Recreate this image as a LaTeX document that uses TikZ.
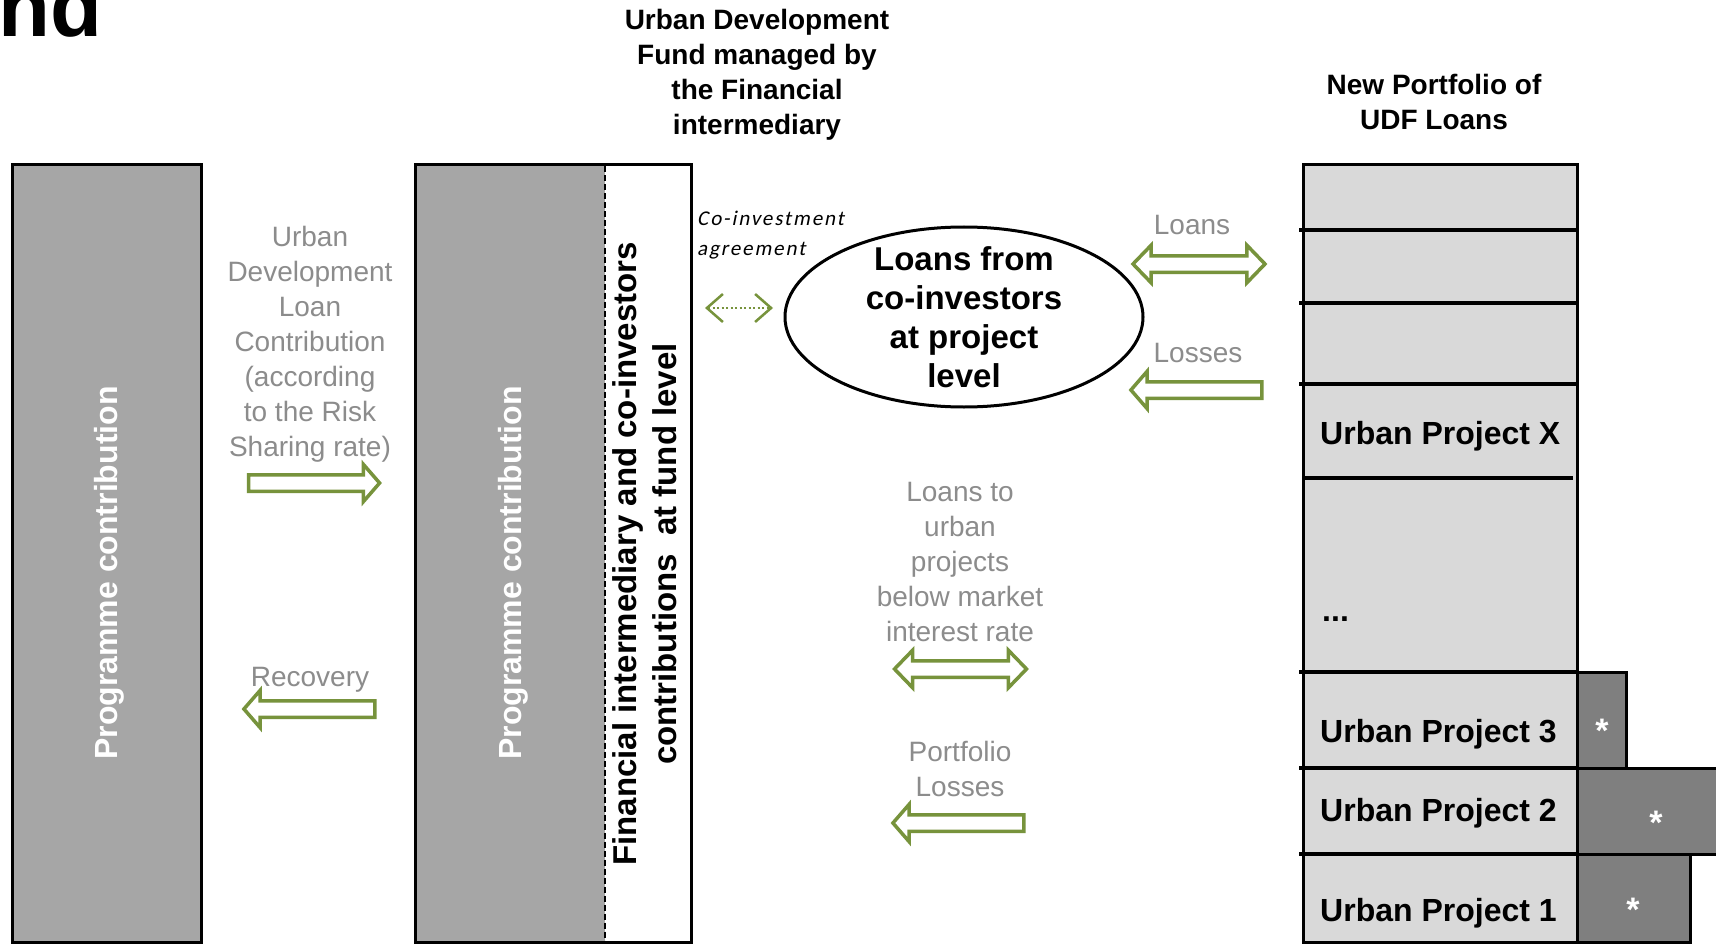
\documentclass[tikz,border=0pt]{standalone}
\usepackage{fontspec}
\setmainfont{Liberation Sans}
\newfontfamily\agreefont[LetterSpace=9,FakeSlant=0.2]{Carlito}
\usetikzlibrary{shapes.geometric,shapes.arrows,arrows.meta}

\definecolor{contribgray}{HTML}{A6A6A6}
\definecolor{loangray}{HTML}{D9D9D9}
\definecolor{stargray}{HTML}{7F7F7F}
\definecolor{flowgreen}{HTML}{77933C}
\definecolor{labelgray}{HTML}{8C8C8C}

\tikzset{
  headlabel/.style={font=\bfseries\fontsize{28}{35}\selectfont, align=center, inner sep=0pt, anchor=north},
  flowlabel/.style={font=\fontsize{28}{35}\selectfont, text=labelgray, align=center, inner sep=0pt, anchor=north},
  vlabel/.style={font=\bfseries\fontsize{32}{40}\selectfont, rotate=90, inner sep=0pt, align=center},
  projlabel/.style={font=\bfseries\fontsize{32}{38}\selectfont, inner sep=0pt, anchor=base west},
  starlabel/.style={font=\bfseries\fontsize{34}{34}\selectfont, text=white, inner sep=0pt},
  flowright/.style={single arrow, draw=flowgreen, line width=3.5pt, fill=white, minimum height=131pt, inner sep=6.5pt, single arrow head extend=10.5pt, single arrow tip angle=98},
  flowleft/.style={flowright, shape border rotate=180},
  flowboth/.style={double arrow, draw=flowgreen, line width=3.5pt, fill=white, minimum height=132pt, inner sep=6.5pt, double arrow head extend=10.5pt, double arrow tip angle=92},
  rowline/.style={line width=4.5pt},
}

\begin{document}
\begin{tikzpicture}[x=1pt,y=-1pt]
    \useasboundingbox (0,0) rectangle (1716,944);
    \clip (0,0) rectangle (1716,944);
    \fill[white] (0,0) rectangle (1716,944);

    \node[font=\bfseries\fontsize{85}{85}\selectfont, anchor=base east, inner sep=0pt] (titlecut) at (103,37) {nd};

    \draw[line width=3pt, fill=contribgray] (12,165) rectangle (201,942);
    \node[vlabel, text=white, anchor=base] (progleft) at (117,573) {Programme contribution};

    \fill[contribgray] (415,165) rectangle (605,942);
    \draw[line width=3pt] (415,165) rectangle (691,942);
    \draw[line width=2pt, dash pattern=on 6pt off 3pt] (605,166.5) -- (605,940.5);
    \node[vlabel, text=white, anchor=base] (progmid) at (521,573) {Programme contribution};
    \node[vlabel, font=\bfseries\fontsize{33}{40}\selectfont] (fundlevel) at (645,554) {Financial intermediary and co-investors\\contributions \ at fund level};

    \node[headlabel] (udfhead) at (757,9) {Urban Development\\Fund managed by\\the Financial\\intermediary};
    \node[headlabel] (portfoliohead) at (1434,74) {New Portfolio of\\UDF Loans};

    \node[flowlabel] (contriblabel) at (310,226) {Urban\\Development\\Loan\\Contribution\\(according\\to the Risk\\Sharing rate)};
    \node[flowright] (contribarrow) at (310.5,483) {};
    \node[flowlabel] (recovlabel) at (310,667) {Recovery};
    \node[flowleft] (recovarrow) at (313,709) {};

    \node[font=\agreefont\fontsize{21}{30}\selectfont, align=left, anchor=north west, inner sep=0pt] (agreelabel) at (697,211) {Co-investment\\agreement};
    \coordinate (agreeL) at (705,308);
    \coordinate (agreeR) at (773,308);
    \draw[flowgreen, line width=2.5pt, dash pattern=on 2pt off 2.5pt, {Straight Barb[length=16pt,width=28pt]}-{Straight Barb[length=16pt,width=28pt]}] (agreeL) -- (agreeR);

    \node[ellipse, draw, line width=3pt, minimum width=358pt, minimum height=180pt, inner sep=0pt] (coinvest) at (964,317) {};
    \node[font=\bfseries\fontsize{33}{39}\selectfont, align=center, inner sep=0pt] (coinvlabel) at (coinvest.center) {Loans from\\co-investors\\at project\\level};

    \node[flowlabel] (loanslabel) at (1192,215) {Loans};
    \node[flowboth] (loansarrow) at (1199,264) {};
    \node[flowlabel] (losseslabel) at (1198,343) {Losses};
    \node[flowleft] (lossesarrow) at (1200,390) {};

    \node[flowlabel] (projlabel) at (960,482) {Loans to\\urban\\projects\\below market\\interest rate};
    \node[flowboth] (projarrow) at (960.5,669) {};
    \node[flowlabel] (portlabel) at (960,741) {Portfolio\\Losses};
    \node[flowleft] (portarrow) at (962,823) {};

    \draw[line width=3pt, fill=loangray] (1303,165) rectangle (1577,942);
    \foreach \y in {230,303,384,672,768,854}
        \draw[rowline] (1299,\y) -- (1577,\y);
    \draw[rowline] (1303,478) -- (1573,478);

    \draw[line width=3pt, fill=stargray] (1577,672) rectangle (1626,768);
    \draw[line width=3pt, fill=stargray] (1577,768) rectangle (1730,854);
    \draw[line width=3pt, fill=stargray] (1577,854) rectangle (1690,942);

    \node[projlabel] (projx) at (1320,444) {Urban Project X};
    \node[projlabel] (projdots) at (1322,621) {...};
    \node[projlabel] (proj3) at (1320,742) {Urban Project 3};
    \node[projlabel] (proj2) at (1320,821) {Urban Project 2};
    \node[projlabel] (proj1) at (1320,921) {Urban Project 1};

    \foreach \x/\y/\n in {1602/723/3, 1656/815/2, 1633/902/1}
        \node[starlabel] (star\n) at (\x,\y+8) {*};

\end{tikzpicture}
\end{document}
